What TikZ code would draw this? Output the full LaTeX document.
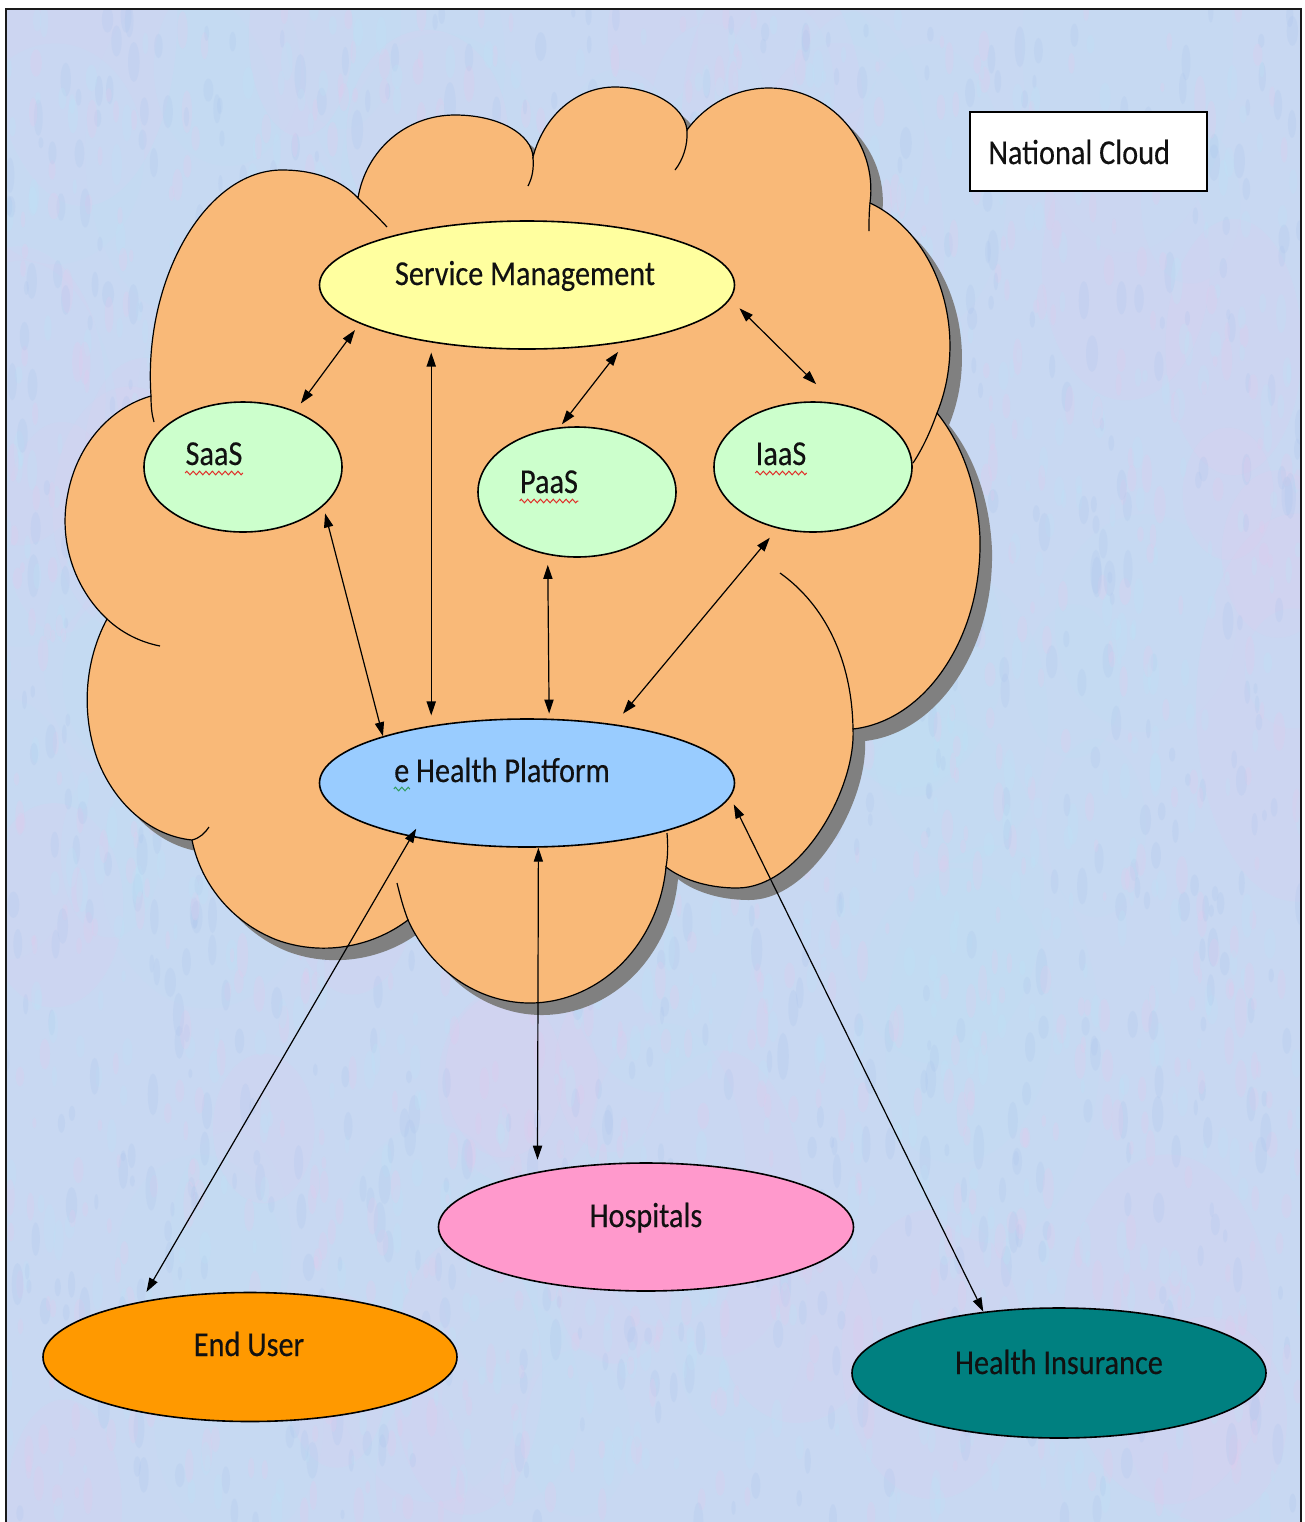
\documentclass[tikz,border=0pt]{standalone}
\usepackage{fontspec}
\usetikzlibrary{shapes.geometric,arrows.meta,decorations.pathmorphing}
\newfontfamily\lblfont{Carlito}[FakeStretch=0.865, FakeBold=0.3]

\definecolor{paper}{HTML}{C8D8F2}
\definecolor{tissuepink}{HTML}{E6C9EC}
\definecolor{tissuecyan}{HTML}{BDE3F7}
\definecolor{tissueblue}{HTML}{A9C3EC}
\definecolor{framec}{HTML}{1A1A1A}
\definecolor{cloudc}{HTML}{F9B978}
\definecolor{shadowgray}{HTML}{808080}
\definecolor{smfill}{HTML}{FFFF9F}
\definecolor{svcfill}{HTML}{CCFFCC}
\definecolor{ehfill}{HTML}{99CCFF}
\definecolor{hosfill}{HTML}{FF99CC}
\definecolor{eufill}{HTML}{FF9900}
\definecolor{hifill}{HTML}{008080}
\definecolor{inkc}{HTML}{111111}
\definecolor{spellred}{HTML}{E0302A}
\definecolor{spellgreen}{HTML}{2E9B5A}

% outer contour of the cloud, one Bezier arc per lobe segment
\newcommand\cloudoutline{(151,396)
 .. controls (143,280) and (205,170) .. (282,170)
 .. controls (318,170) and (343,182) .. (358,198)
 .. controls (366,150) and (406,115) .. (455,115)
 .. controls (500,115) and (532,135) .. (533,157)
 .. controls (544,115) and (577,87) .. (615,87)
 .. controls (650,87) and (684,105) .. (687,130)
 .. controls (706,104) and (736,88) .. (769,88)
 .. controls (830,88) and (878,142) .. (870,203)
 .. controls (902,218) and (928,249) .. (941,289)
 .. controls (954,329) and (953,374) .. (937,413)
 .. controls (963,445) and (978,490) .. (980,538)
 .. controls (981,585) and (969,631) .. (945,667)
 .. controls (922,702) and (889,725) .. (853,729)
 .. controls (856,790) and (800,888) .. (737,888)
 .. controls (705,888) and (680,878) .. (666,867)
 .. controls (662,910) and (641,950) .. (609,975)
 .. controls (577,1000) and (537,1009) .. (499,999)
 .. controls (460,989) and (426,960) .. (408,920)
 .. controls (371,948) and (321,956) .. (277,940)
 .. controls (233,923) and (201,885) .. (192,840)
 .. controls (152,836) and (116,806) .. (98,761)
 .. controls (81,715) and (84,662) .. (107,619)
 .. controls (74,588) and (58,540) .. (68,493)
 .. controls (77,446) and (109,408) .. (151,396) -- cycle}

\tikzset{
  lobeline/.style={line width=0.6pt, draw=black},
  box/.style={ellipse, draw=black, line width=0.8pt, inner sep=0pt},
  lbl/.style={font=\lblfont\fontsize{17.5pt}{20pt}\selectfont, text=inkc, inner sep=0pt, anchor=base},
  link/.style={line width=0.6pt, draw=black,
    {Triangle[length=7pt,width=4.6pt]}-{Triangle[length=7pt,width=4.6pt]}},
  spellwave/.style={decorate, decoration={zigzag, segment length=3.2pt, amplitude=0.9pt}, line width=0.5pt},
}

\begin{document}
\begin{tikzpicture}[x=0.5pt, y=-0.5pt]
\useasboundingbox (0,0) rectangle (1305,1522);
\clip (0,0) rectangle (1305,1522);

% page and tissue-paper background
\fill[white] (0,0) rectangle (1305,1522);
\fill[paper] (6,9) rectangle (1301,1530);
\begin{scope}
  \clip (6,9) rectangle (1301,1530);
  \pgfmathsetseed{2718}
  % broad soft patches
  \foreach \i in {1,...,90}{
    \pgfmathsetmacro\px{6+1295*rnd}
    \pgfmathsetmacro\py{9+1513*rnd}
    \pgfmathsetmacro\rx{40+70*rnd}
    \pgfmathsetmacro\ry{\rx*(1.2+0.8*rnd)}
    \pgfmathrandominteger{\tone}{1}{2}
    \ifcase\tone
    \or \fill[tissuepink, opacity=0.16] (\px,\py) ellipse [x radius=\rx, y radius=\ry];
    \or \fill[tissuecyan, opacity=0.18] (\px,\py) ellipse [x radius=\rx, y radius=\ry];
    \fi
  }
  % fine vertical grain
  \foreach \i in {1,...,2600}{
    \pgfmathsetmacro\px{6+1295*rnd}
    \pgfmathsetmacro\py{9+1513*rnd}
    \pgfmathsetmacro\rx{2+4*rnd}
    \pgfmathsetmacro\ry{\rx*(2.2+2*rnd)}
    \pgfmathrandominteger{\tone}{1}{3}
    \ifcase\tone
    \or \fill[tissuepink, opacity=0.22] (\px,\py) ellipse [x radius=\rx, y radius=\ry];
    \or \fill[tissuecyan, opacity=0.25] (\px,\py) ellipse [x radius=\rx, y radius=\ry];
    \or \fill[tissueblue, opacity=0.20] (\px,\py) ellipse [x radius=\rx, y radius=\ry];
    \fi
  }
\end{scope}
\draw[line width=1pt, draw=framec] (6,1530) -- (6,9) -- (1301,9) -- (1301,1530);

% cloud with drop shadow
\fill[shadowgray, shift={(12,12)}] \cloudoutline;
\fill[cloudc] \cloudoutline;
\draw[lobeline] \cloudoutline;

% inner ends of the lobe arcs
\draw[lobeline] (151,396) .. controls (151,408) and (152,415) .. (154,422);
\draw[lobeline] (358,198) .. controls (368,208) and (378,217) .. (387,227);
\draw[lobeline] (533,157) .. controls (534,170) and (532,178) .. (528,186);
\draw[lobeline] (687,130) .. controls (688,145) and (683,160) .. (675,170);
\draw[lobeline] (870,203) .. controls (869,213) and (869,222) .. (869,231);
\draw[lobeline] (937,413) .. controls (931,430) and (923,448) .. (913,463);
\draw[lobeline] (780,573) .. controls (825,605) and (852,660) .. (853,729);
\draw[lobeline] (667,833) .. controls (668,845) and (668,856) .. (666,867);
\draw[lobeline] (408,920) .. controls (403,907) and (400,895) .. (397,883);
\draw[lobeline] (192,840) .. controls (200,838) and (205,833) .. (209,827);
\draw[lobeline] (107,619) .. controls (122,633) and (140,642) .. (160,646);

% legend box
\node[draw=black, line width=1pt, fill=white, minimum width=118.5pt, minimum height=39.5pt,
      inner sep=0pt] (national) at (1088.5,151.5) {};
\node[lbl, anchor=base west] (nationallbl) at (988,164) {National Cloud};

% services
\node[box, fill=smfill,  minimum width=207.5pt, minimum height=64pt] (sm)   at (527,285) {};
\node[box, fill=svcfill, minimum width=99pt,    minimum height=65pt] (saas) at (243,467) {};
\node[box, fill=svcfill, minimum width=99pt,    minimum height=65pt] (paas) at (577,492) {};
\node[box, fill=svcfill, minimum width=99pt,    minimum height=65pt] (iaas) at (813,467) {};
\node[box, fill=ehfill,  minimum width=207.5pt, minimum height=64pt] (eh)   at (527,783) {};
\node[box, fill=hosfill, minimum width=207.5pt, minimum height=64pt] (hos)  at (646,1227) {};
\node[box, fill=eufill,  minimum width=207pt,   minimum height=64.5pt] (eu) at (250,1357) {};
\node[box, fill=hifill,  minimum width=207pt,   minimum height=65pt] (hi)   at (1059,1373) {};

% labels
\node[lbl] (smlbl)   at (525,285)  {Service Management};
\node[lbl] (saaslbl) at (214,465)  {SaaS};
\node[lbl] (paaslbl) at (549,493)  {PaaS};
\node[lbl] (iaaslbl) at (781,465)  {IaaS};
\node[lbl] (ehlbl)   at (502,782)  {e Health Platform};
\node[lbl] (hoslbl)  at (646,1227) {Hospitals};
\node[lbl] (eulbl)   at (249,1356) {End User};
\node[lbl] (hilbl)   at (1059,1374) {Health Insurance};

% spelling marks
\draw[spellwave, draw=spellred] ([yshift=-4pt]saaslbl.base west) -- ([yshift=-4pt]saaslbl.base east);
\draw[spellwave, draw=spellred] ([yshift=-4pt]paaslbl.base west) -- ([yshift=-4pt]paaslbl.base east);
\draw[spellwave, draw=spellred] ([yshift=-4pt]iaaslbl.base west) -- ([yshift=-4pt]iaaslbl.base east);
\draw[spellwave, draw=spellgreen] ([yshift=-3.5pt]ehlbl.base west) -- ([xshift=8pt,yshift=-3.5pt]ehlbl.base west);

% connectors
\draw[link, shorten <=4pt, shorten >=4.65pt] (sm.-167.4) -- (saas.47.1);
\draw[link, shorten <=6.25pt, shorten >=1.85pt] (sm.-30.8) -- (paas.105);
\draw[link, shorten <=6.5pt, shorten >=13.25pt] (sm.-4.6) -- (iaas.71.7);
\draw[link, shorten <=5pt, shorten >=5pt] (sm.-149) -- (eh.149);
\draw[link, shorten <=3.75pt] (saas.-26.2) -- (eh.162.9);
\draw[link, shorten <=5pt, shorten >=2.5pt] (paas.-115.1) -- (eh.71.8);
\draw[link, shorten <=6pt, shorten >=6.85pt] (iaas.-120) -- (eh.34.9);
\draw[link, shorten <=-4.75pt, shorten >=5.5pt] (eh.-155.5) -- (eu.153.7);
\draw[link, shorten >=6pt] (eh.-80.2) -- (hos.153.2);
\draw[link, shorten <=4pt] (eh.-4) -- (hi.141.9);
\end{tikzpicture}
\end{document}
